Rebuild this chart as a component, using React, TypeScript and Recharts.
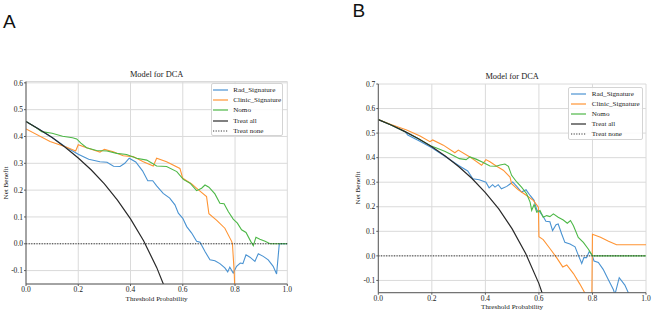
import { CartesianGrid, Line, LineChart, ReferenceLine, XAxis, YAxis } from "recharts";

type Pt = [number, number];

// axis ticks
const xTicks = [0, 0.2, 0.4, 0.6, 0.8, 1.0];
const yTicksA = [-0.1, 0, 0.1, 0.2, 0.3, 0.4, 0.5, 0.6];
const yTicksB = [-0.1, 0, 0.1, 0.2, 0.3, 0.4, 0.5, 0.6, 0.7];

// Panel A — [threshold, net benefit]
const radA: Pt[] = [
  [0, 0.456], [0.05, 0.427], [0.1, 0.396], [0.15, 0.362], [0.2, 0.334], [0.24, 0.315],
  [0.283, 0.306], [0.31, 0.304], [0.335, 0.289], [0.36, 0.288], [0.378, 0.3], [0.395, 0.319],
  [0.42, 0.305], [0.446, 0.272], [0.466, 0.235], [0.485, 0.235], [0.5, 0.216], [0.525, 0.188],
  [0.55, 0.17], [0.57, 0.145], [0.583, 0.114], [0.6, 0.095], [0.615, 0.064], [0.634, 0.04],
  [0.653, 0.009], [0.666, 0.006], [0.685, -0.029], [0.704, -0.06], [0.723, -0.063], [0.742, -0.074],
  [0.761, -0.09], [0.772, -0.105], [0.78, -0.087], [0.793, -0.109], [0.806, -0.084], [0.82, -0.072],
  [0.83, -0.074], [0.842, -0.041], [0.857, -0.05], [0.876, -0.066], [0.889, -0.037], [0.908, -0.047],
  [0.927, -0.06], [0.946, -0.084], [0.959, -0.113], [0.969, -0.004], [0.97, 0], [1, 0],
];
const clinicA: Pt[] = [
  [0, 0.428], [0.092, 0.381], [0.156, 0.36], [0.19, 0.346], [0.2, 0.369], [0.232, 0.358],
  [0.27, 0.346], [0.283, 0.342], [0.3, 0.352], [0.334, 0.343], [0.372, 0.328], [0.41, 0.325],
  [0.449, 0.306], [0.487, 0.29], [0.5, 0.319], [0.538, 0.306], [0.589, 0.281], [0.6, 0.244],
  [0.634, 0.223], [0.66, 0.201], [0.691, 0.176], [0.7, 0.112], [0.73, 0.087], [0.761, 0.058],
  [0.787, 0.009], [0.79, 0], [0.797, -0.109], [0.8, -0.2],
];
const nomoA: Pt[] = [
  [0, 0.456], [0.04, 0.432], [0.06, 0.418], [0.1, 0.412], [0.14, 0.401], [0.178, 0.395],
  [0.194, 0.391], [0.21, 0.375], [0.232, 0.358], [0.27, 0.348], [0.31, 0.346], [0.347, 0.337],
  [0.385, 0.333], [0.423, 0.319], [0.462, 0.312], [0.5, 0.29], [0.538, 0.288], [0.577, 0.269],
  [0.602, 0.24], [0.628, 0.226], [0.653, 0.198], [0.672, 0.207], [0.685, 0.219], [0.7, 0.211],
  [0.723, 0.186], [0.742, 0.151], [0.758, 0.149], [0.774, 0.12], [0.793, 0.092], [0.809, 0.077],
  [0.825, 0.052], [0.842, 0.042], [0.86, 0.009], [0.87, -0.007], [0.88, 0.024], [0.895, 0.017],
  [0.915, 0.009], [0.934, 0], [1, 0],
];
const treatAllA: Pt[] = [
  [0, 0.456], [0.05, 0.427], [0.1, 0.396], [0.15, 0.36], [0.2, 0.32], [0.25, 0.275],
  [0.3, 0.223], [0.35, 0.163], [0.4, 0.093], [0.45, 0.011], [0.5, -0.088], [0.55, -0.209],
];

// Panel B
const radB: Pt[] = [
  [0, 0.555], [0.05, 0.532], [0.1, 0.506], [0.11, 0.492], [0.15, 0.47], [0.2, 0.44],
  [0.25, 0.405], [0.3, 0.368], [0.334, 0.346], [0.353, 0.314], [0.377, 0.31], [0.402, 0.3],
  [0.414, 0.277], [0.427, 0.29], [0.436, 0.28], [0.448, 0.29], [0.46, 0.273], [0.48, 0.283],
  [0.502, 0.301], [0.517, 0.283], [0.535, 0.26], [0.552, 0.269], [0.567, 0.246], [0.582, 0.226],
  [0.592, 0.187], [0.604, 0.178], [0.616, 0.16], [0.626, 0.141], [0.641, 0.139], [0.651, 0.103],
  [0.664, 0.127], [0.672, 0.13], [0.685, 0.089], [0.697, 0.055], [0.716, 0.048], [0.735, 0.037],
  [0.747, 0.003], [0.76, -0.031], [0.768, -0.007], [0.778, -0.007], [0.788, 0.018], [0.798, 0.004],
  [0.806, -0.021], [0.822, -0.027], [0.84, -0.055], [0.859, -0.096], [0.878, -0.137], [0.884, -0.157],
  [0.9, -0.089], [0.921, -0.119], [0.936, -0.155], [0.95, -0.2],
];
const clinicB: Pt[] = [
  [0, 0.555], [0.05, 0.534], [0.106, 0.513], [0.156, 0.488], [0.193, 0.465], [0.203, 0.472],
  [0.243, 0.451], [0.286, 0.42], [0.299, 0.431], [0.342, 0.403], [0.386, 0.369], [0.402, 0.392],
  [0.417, 0.383], [0.442, 0.365], [0.467, 0.349], [0.492, 0.321], [0.498, 0.294], [0.523, 0.269],
  [0.554, 0.246], [0.579, 0.226], [0.598, 0.198], [0.6, 0.078], [0.616, 0.066], [0.641, 0.03],
  [0.666, -0.007], [0.689, -0.045], [0.704, -0.037], [0.729, -0.072], [0.753, -0.115], [0.772, -0.152],
  [0.795, -0.45], [0.8, 0.088], [0.83, 0.076], [0.86, 0.06], [0.89, 0.045], [1, 0.045],
];
const nomoB: Pt[] = [
  [0, 0.555], [0.05, 0.532], [0.1, 0.506], [0.15, 0.477], [0.2, 0.446], [0.215, 0.44],
  [0.25, 0.425], [0.278, 0.41], [0.303, 0.396], [0.328, 0.392], [0.342, 0.403], [0.365, 0.394],
  [0.392, 0.38], [0.417, 0.366], [0.44, 0.365], [0.455, 0.37], [0.473, 0.374], [0.486, 0.365],
  [0.498, 0.328], [0.517, 0.301], [0.535, 0.28], [0.554, 0.253], [0.567, 0.219], [0.573, 0.185],
  [0.582, 0.209], [0.592, 0.178], [0.604, 0.185], [0.616, 0.157], [0.629, 0.164], [0.641, 0.16],
  [0.654, 0.171], [0.672, 0.157], [0.691, 0.146], [0.706, 0.133], [0.718, 0.144], [0.729, 0.123],
  [0.747, 0.075], [0.766, 0.055], [0.785, 0.027], [0.8, 0], [1, 0],
];
const treatAllB: Pt[] = [
  [0, 0.555], [0.05, 0.532], [0.1, 0.506], [0.15, 0.477], [0.2, 0.444], [0.25, 0.407],
  [0.3, 0.364], [0.35, 0.315], [0.4, 0.258], [0.45, 0.191], [0.5, 0.11], [0.55, 0.011],
  [0.6, -0.113], [0.65, -0.272],
];

const legendNames = ["Rad_Signature", "Clinic_Signature", "Nomo", "Treat all", "Treat none"];

const C = {
  rad: "#4a93d2",
  clinic: "#ff9433",
  nomo: "#4db847",
  all: "#2a2a2a",
  none: "#222",
  grid: "#dadada",
  spine: "#5a5a5a",
  text: "#222",
};
const legendColors = [C.rad, C.clinic, C.nomo, C.all, C.none];
const serif = "'Liberation Serif', 'Times New Roman', serif";

const rows = (pts: Pt[]) => pts.map(([t, v]) => ({ t, v }));

type Box = { left: number; top: number; width: number; height: number };
type Plot = { x0: number; x1: number; y0: number; y1: number };

function Panel({
  box,
  plot,
  yDomain,
  yTicks,
  series,
  titleY,
  xLabelY,
  yLabelX,
  legend,
}: {
  box: Box;
  plot: Plot;
  yDomain: [number, number];
  yTicks: number[];
  series: Pt[][];
  titleY: number;
  xLabelY: number;
  yLabelX: number;
  legend: { left: number; top: number; width: number; height: number; textX: number };
}) {
  const yW = 20;
  const xH = 15;
  const margin = {
    top: plot.y0 - box.top,
    left: plot.x0 - box.left - yW,
    right: box.left + box.width - plot.x1,
    bottom: box.top + box.height - plot.y1 - xH,
  };
  const cx = (plot.x0 + plot.x1) / 2;
  const cy = (plot.y0 + plot.y1) / 2;
  const tick = { fontSize: 7.5, fill: C.text, fontFamily: serif };
  const lineColors = [C.rad, C.clinic, C.nomo, C.all];

  return (
    <>
      <div style={{ position: "absolute", left: box.left, top: box.top }}>
        <LineChart width={box.width} height={box.height} margin={margin}>
          <CartesianGrid stroke={C.grid} strokeWidth={1} />
          <XAxis
            dataKey="t"
            type="number"
            domain={[0, 1]}
            ticks={xTicks}
            allowDataOverflow
            height={xH}
            tick={tick}
            tickSize={2}
            tickMargin={1}
            tickFormatter={(v: number) => v.toFixed(1)}
            axisLine={{ stroke: C.spine }}
            tickLine={{ stroke: C.spine }}
          />
          <YAxis
            type="number"
            domain={yDomain}
            ticks={yTicks}
            allowDataOverflow
            width={yW}
            tick={tick}
            tickSize={2}
            tickMargin={1}
            tickFormatter={(v: number) => v.toFixed(1)}
            axisLine={{ stroke: C.spine }}
            tickLine={{ stroke: C.spine }}
          />
          {series.map((s, i) => (
            <Line
              key={i}
              data={rows(s)}
              dataKey="v"
              type="linear"
              stroke={lineColors[i]}
              strokeWidth={i === 3 ? 1.2 : 1.1}
              dot={false}
              activeDot={false}
              isAnimationActive={false}
            />
          ))}
          <ReferenceLine y={0} stroke={C.none} strokeWidth={0.9} strokeDasharray="1.2 1.4" />
        </LineChart>
      </div>
      <div
        style={{
          position: "absolute",
          left: cx - 60,
          width: 120,
          top: titleY - 5,
          lineHeight: "10px",
          textAlign: "center",
          fontFamily: serif,
          fontSize: 8.4,
          color: C.text,
        }}
      >
        Model for DCA
      </div>
      <div
        style={{
          position: "absolute",
          left: cx - 60,
          width: 120,
          top: xLabelY - 5,
          lineHeight: "10px",
          textAlign: "center",
          fontFamily: serif,
          fontSize: 7.1,
          color: C.text,
        }}
      >
        Threshold Probability
      </div>
      <div
        style={{
          position: "absolute",
          left: yLabelX - 40,
          width: 80,
          top: cy - 5,
          lineHeight: "10px",
          textAlign: "center",
          fontFamily: serif,
          fontSize: 7.1,
          color: C.text,
          transform: "rotate(-90deg)",
        }}
      >
        Net Benefit
      </div>
      <div
        style={{
          position: "absolute",
          left: legend.left,
          top: legend.top,
          width: legend.width,
          height: legend.height,
          boxSizing: "border-box",
          border: "1px solid #d4d4d4",
          borderRadius: 2,
          background: "rgba(255,255,255,0.85)",
          paddingTop: 1,
        }}
      >
        {legendNames.map((n, i) => (
          <div key={n} style={{ position: "relative", height: 10.1 }}>
            <svg
              width={15}
              height={10}
              style={{ position: "absolute", left: 1.5, top: 0 }}
            >
              <line
                x1={0}
                x2={15}
                y1={5}
                y2={5}
                stroke={legendColors[i]}
                strokeWidth={i === 4 ? 0.9 : 1.2}
                strokeDasharray={i === 4 ? "1.2 1.4" : undefined}
              />
            </svg>
            <span
              style={{
                position: "absolute",
                left: legend.textX,
                top: 0,
                lineHeight: "10px",
                fontFamily: serif,
                fontSize: 7.1,
                color: C.text,
                whiteSpace: "nowrap",
              }}
            >
              {n}
            </span>
          </div>
        ))}
      </div>
    </>
  );
}

export default function App() {
  const letter = {
    position: "absolute" as const,
    fontFamily: "'Liberation Sans', Arial, sans-serif",
    fontSize: 19,
    lineHeight: "19px",
    color: "#111",
  };
  return (
    <div
      style={{
        position: "absolute",
        left: 0,
        top: 0,
        width: 653,
        height: 312,
        background: "#fff",
        overflow: "hidden",
      }}
    >
      <div style={{ ...letter, left: 3, top: 11.8 }}>A</div>
      <div style={{ ...letter, left: 352.5, top: 1.1 }}>B</div>
      <Panel
        box={{ left: 0, top: 60, width: 330, height: 252 }}
        plot={{ x0: 26, x1: 287.3, y0: 81.5, y1: 284 }}
        yDomain={[-0.15, 0.605]}
        yTicks={yTicksA}
        series={[radA, clinicA, nomoA, treatAllA]}
        titleY={75}
        xLabelY={298.7}
        yLabelX={6}
        legend={{ left: 210.7, top: 83.3, width: 72.6, height: 52.7, textX: 21.5 }}
      />
      <Panel
        box={{ left: 330, top: 60, width: 323, height: 252 }}
        plot={{ x0: 378.3, x1: 646, y0: 84, y1: 292.7 }}
        yDomain={[-0.15, 0.7]}
        yTicks={yTicksB}
        series={[radB, clinicB, nomoB, treatAllB]}
        titleY={77.3}
        xLabelY={306.7}
        yLabelX={358}
        legend={{ left: 568, top: 86.7, width: 75, height: 53.3, textX: 22.7 }}
      />
    </div>
  );
}
